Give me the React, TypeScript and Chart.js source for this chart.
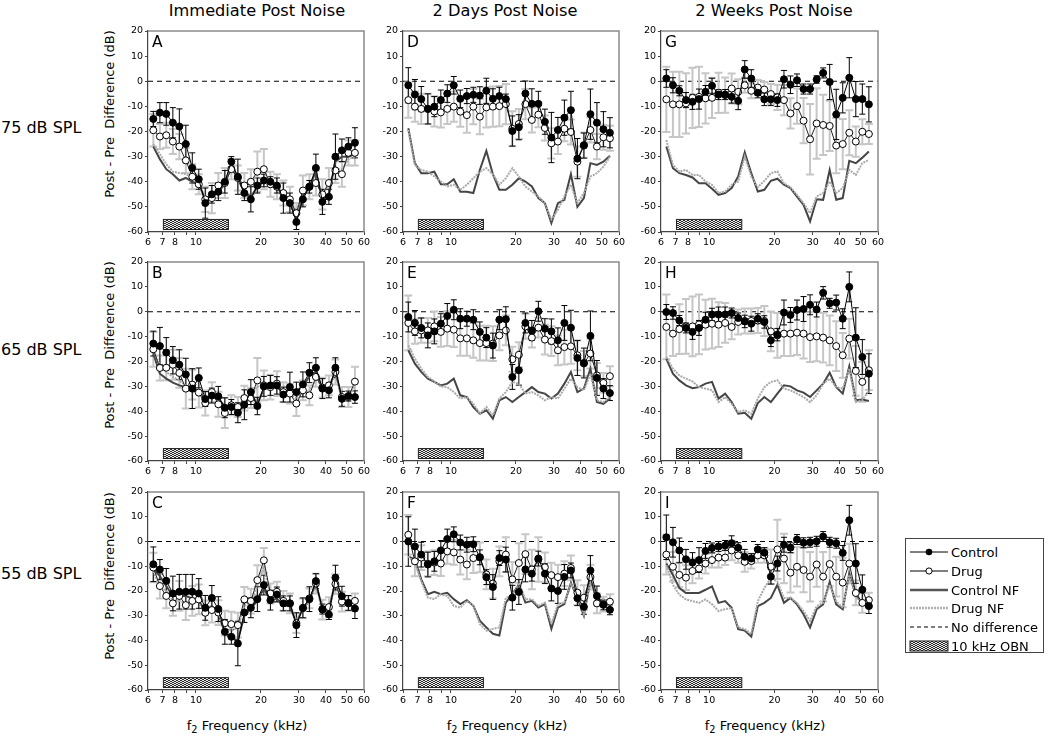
import React, { useEffect, useRef } from "react";
import { Chart, registerables } from "chart.js";

Chart.register(...registerables);
Chart.defaults.font.family = "'DejaVu Sans', sans-serif";
Chart.defaults.color = "#000";

// ---------------- data ----------------
const FREQS = [6.35, 6.81, 7.29, 7.82, 8.38, 8.98, 9.62, 10.31, 11.05, 11.85, 12.7, 13.61, 14.59, 15.64, 16.76, 17.96, 19.25, 20.63, 22.12, 23.7, 25.4, 27.23, 29.18, 31.28, 33.52, 35.93, 38.51, 41.27, 44.24, 47.41, 50.81, 54.46];
const X_TICKS = [6, 7, 8, 9, 10, 20, 30, 40, 50, 60];
const X_TICK_LABELS = ["6", "7", "8", "", "10", "20", "30", "40", "50", "60"];
const Y_MIN = -60;
const Y_MAX = 20;
const Y_STEP = 10;
const ZERO_LINE = 0;
const OBN_RANGE = [7.07, 14.14];
const OBN_LEVELS = [-55, -59];

const COLUMN_TITLES = ["Immediate Post Noise", "2 Days Post Noise", "2 Weeks Post Noise"];
const ROW_LABELS = ["75 dB SPL", "65 dB SPL", "55 dB SPL"];
const Y_TITLE = "Post - Pre  Difference (dB)";
const LEGEND_LABELS = ["Control", "Drug", "Control NF", "Drug NF", "No difference", "10 kHz OBN"];

// Panel A
const A_CONTROL = [-15, -12.5, -13, -16.5, -18, -25, -34.5, -39, -48.5, -45, -44, -40, -32, -38, -44.5, -47, -41.5, -39.5, -40, -41.5, -46.5, -48.5, -56, -47, -42, -34.5, -48, -46, -30, -27.5, -26, -24.5];
const A_CONTROL_ERR = [3, 4, 4.5, 6, 7, 7.5, 6, 4, 6, 3.5, 3.5, 4.5, 2, 7, 3, 5, 3, 2.5, 2, 3, 6, 4, 3, 3, 2.5, 5.5, 5, 3, 9, 4.5, 3.5, 6];
const A_DRUG = [-19.5, -22, -21.5, -24, -26, -31.5, -38, -41, -47, -46.5, -41.5, -40.5, -35, -38.5, -41.5, -40, -36, -35, -41, -42, -44.5, -47, -52.5, -43.5, -42, -40.5, -45, -40.5, -35.5, -37, -28.5, -28.5];
const A_DRUG_ERR = [6.5, 5, 5, 5, 5, 5, 5, 4, 5, 6, 5, 6, 4, 5, 5, 5, 8, 8, 5, 5, 5, 5, 4, 6, 5, 5, 6, 6, 5, 5, 5, 5];
const A_CONTROL_NF = [-26, -31, -35, -37, -39.5, -38.5, -40, -41, -47, -46, -44, -41, -33, -39, -44, -46, -42, -40, -40, -42, -46, -48, -55, -46, -42, -36, -47, -45, -32, -30, -30, -29];
const A_DRUG_NF = [-25, -29, -33, -36, -36.5, -37, -38, -41, -46, -46, -42, -41, -35, -39, -42, -41, -37, -36, -40, -42, -45, -47, -52, -44, -42, -40, -45, -41, -35, -35, -31, -30];

// Panel B
const B_CONTROL = [-12.8, -13.8, -16.4, -19.5, -21.3, -25.2, -30.9, -26.6, -35.1, -33.7, -34, -38.6, -38.3, -40.6, -37.4, -32.3, -37.9, -30, -29.6, -29.6, -33.3, -30.3, -32.3, -29.2, -24.5, -22.5, -30.9, -31.6, -22.5, -35, -33.9, -34.3];
const B_CONTROL_ERR = [5, 7.5, 6, 5.5, 6, 6.5, 8, 4, 3, 3, 4, 4, 3, 4, 6, 5, 3.5, 4, 4, 3.5, 3, 6, 4, 5, 4, 4, 4, 3, 4, 3, 2, 2.5];
const B_DRUG = [-15.1, -22.6, -22.5, -21.3, -24.6, -30.9, -29.3, -32.5, -36.7, -32.3, -37.2, -40.7, -37.6, -38.3, -34.7, -34.7, -27.6, -29.6, -30.3, -28.9, -32.3, -32.9, -36.9, -31.6, -33.6, -26.2, -30.5, -29.6, -24.2, -34.3, -34.3, -28.1];
const B_DRUG_ERR = [7, 5, 5, 6, 6, 8, 6, 6, 5, 4, 5, 6, 4, 4, 5, 4, 9, 6, 5, 5, 4, 4, 5, 4, 4, 4, 4, 4, 5, 4, 4, 6];
const B_CONTROL_NF = [-16.9, -24.9, -26.9, -28.5, -29.6, -30.3, -32, -32, -35, -34, -35, -38, -38.5, -40, -38, -33, -37, -31, -30, -30, -33, -31, -32, -30, -26, -24, -31, -31, -24, -35, -34, -34];
const B_DRUG_NF = [-15.5, -21.5, -24.2, -26.2, -27.6, -29.6, -31, -33, -36, -33, -36, -39, -37.5, -38, -35, -34, -30, -30, -31, -30, -32, -33, -35, -32, -32, -27, -30, -30, -25, -34, -34, -30];

// Panel C
const C_CONTROL = [-9.2, -11.3, -15.9, -21, -20.3, -20.3, -20.3, -21, -26.8, -22.8, -27.3, -36.5, -38.5, -41.2, -28.7, -26.8, -23.3, -17.6, -23.7, -21.4, -25, -25, -33.8, -26.8, -23.3, -16, -27.3, -29.5, -14.6, -22.1, -24.8, -27.1];
const C_CONTROL_ERR = [7, 4, 5, 7, 7, 7, 7, 6, 5, 5, 5, 5, 3, 9, 4, 4, 5, 4, 4, 3, 3, 3, 5, 4, 5, 3, 2, 2, 5, 4, 3, 4];
const C_DRUG = [-10.5, -18, -22, -25, -22, -25.7, -24, -23.4, -28.8, -27.7, -28.7, -33, -33.4, -33.8, -23.4, -24.1, -15.6, -7.6, -21, -20.3, -24, -25, -33, -27, -23, -17, -27.5, -26.5, -17.2, -24.3, -25, -24];
const C_DRUG_ERR = [6, 5, 5, 5, 6, 6, 6, 6, 5, 5, 5, 5, 5, 5, 5, 5, 6, 5, 4, 4, 4, 4, 4, 4, 4, 4, 4, 4, 4, 4, 3, 3];
const C_CONTROL_NF = [-11, -14, -18, -22, -22, -22, -23, -24, -28, -26, -29, -37, -39, -40, -30, -27, -24, -19, -24, -23, -26, -26, -33, -27, -24, -17, -27, -28, -16, -23, -25, -27];
const C_DRUG_NF = [-12, -18, -20, -24, -24, -25, -25, -24, -29, -27, -29, -35, -36, -35, -26, -24, -18, -10, -22, -21, -24, -25, -32, -27, -24, -18, -27, -27, -17, -24, -25, -25];

// Panel D
const D_CONTROL = [-1.6, -5.3, -7.1, -11, -10.1, -7.5, -4.9, -1.6, -7, -5.9, -5.4, -5.7, -3.8, -7, -5.9, -7.1, -19.8, -18.3, -4.9, -9, -9, -16.1, -22.4, -19.4, -14.5, -11.5, -30.8, -25.6, -13.1, -16.5, -19.1, -20.5];
const D_CONTROL_ERR = [7, 6, 5, 6, 4, 4, 3.5, 3.5, 3.5, 3, 3, 3.5, 5, 4, 3.5, 2, 6, 5, 5, 6, 5, 5, 10, 5, 7, 7.5, 8, 5, 10, 8, 7, 6];
const D_DRUG = [-7.5, -10.1, -11, -11, -12, -12.4, -11, -10.1, -12.1, -13.5, -10.1, -14.1, -10.4, -10.1, -9.9, -9.1, -18.9, -17, -9.1, -15.4, -13.3, -18.6, -24.7, -24, -18.9, -20.2, -32, -25.4, -19.4, -26, -22.3, -22.7];
const D_DRUG_ERR = [7, 6, 6, 6, 6, 6, 6, 6, 6, 7, 7, 7, 8, 8, 8, 8, 7, 6, 6, 5, 5, 5, 6, 5, 5, 5, 6, 5, 5, 5, 5, 5];
const D_CONTROL_NF = [-18.7, -32.6, -36.6, -36.6, -36, -41, -41, -39, -44, -44, -44.5, -35.3, -27.7, -37, -43.2, -43.2, -41.2, -38.6, -39.9, -41.9, -46.5, -48.5, -56.4, -48.5, -47.2, -36.9, -50, -46.5, -32.6, -33.3, -32, -29.7];
const D_DRUG_NF = [-19.4, -33.3, -35.3, -35.9, -37.9, -39.9, -41.9, -41.2, -43.2, -41.2, -38.6, -36, -34.6, -37, -41.2, -38.6, -34.6, -37.9, -41.9, -43.9, -45.9, -48.5, -55, -51.1, -45.9, -41.2, -48.5, -44.5, -37.9, -36.6, -34, -30];

// Panel E
const E_CONTROL = [-2.1, -4.5, -6.5, -9.5, -7.9, -4.8, -1.7, 0.8, -2.8, -2.8, -3.2, -8.1, -10.4, -13.6, -3.2, -3, -26.2, -23.5, -4.5, -7.5, 0.2, -6.8, -7.9, -11.5, -4.5, -6.4, -18.6, -20.6, -9.7, -26.6, -30.9, -32.7];
const E_CONTROL_ERR = [6, 5, 4, 5, 5, 4, 5, 4, 4, 3, 4, 4, 4, 5, 4, 5, 5, 6, 4, 4, 4, 4, 5, 5, 7, 7, 7, 6, 10, 7, 4, 3];
const E_DRUG = [-4.5, -7.9, -7.5, -7.5, -5.9, -8.1, -6.8, -7.2, -10.7, -10.7, -11.5, -12.6, -12.6, -12.8, -9.5, -7.5, -19.1, -17.3, -5.9, -10.4, -6.4, -11.2, -11.8, -15.5, -14.2, -13.9, -17.5, -20.8, -16.8, -25.6, -28.6, -25.9];
const E_DRUG_ERR = [11, 5, 5, 5, 6, 6, 7, 7, 7, 7, 7, 7, 7, 7, 6, 6, 5, 5, 5, 4, 4, 6, 6, 6, 7, 7, 6, 5, 6, 5, 4, 4];
const E_CONTROL_NF = [-15.5, -20.9, -24.2, -26.9, -28.2, -29.6, -28.9, -26.9, -33.6, -34.3, -38.3, -41, -39.6, -43, -35.6, -34.3, -36.3, -34.3, -32.3, -30.3, -32.3, -32.9, -34.9, -32.9, -28.9, -24.2, -32.3, -30.9, -22.9, -36.3, -37, -34.9];
const E_DRUG_NF = [-13.5, -18.9, -22.9, -26.2, -28, -30, -30.3, -32.3, -34.9, -34.3, -37, -41, -38.3, -41.6, -34.9, -32.3, -28.2, -28.9, -32.9, -32.3, -33.6, -35.6, -34.3, -34.9, -30.9, -26.9, -30.3, -31.6, -24.9, -35.6, -36.3, -34.3];

// Panel F
const F_CONTROL = [0, -2, -5.3, -9.3, -8, -3.6, 1, 2.9, -0.4, -1.3, -1.1, -6.4, -14.4, -18.4, -6.7, -7.3, -22.7, -20.4, -11.3, -13, -6.9, -13, -19, -20, -14.3, -11.7, -22.9, -26.4, -11.7, -22, -25.6, -27.6];
const F_CONTROL_ERR = [10, 7, 5, 5, 4, 4, 4, 3, 3, 3, 3, 3, 3, 5, 3, 5, 5, 5, 5, 3, 3, 4, 5, 5, 5, 3, 3, 3, 6, 4, 2, 2];
const F_DRUG = [2.7, -8, -6.5, -9, -8.5, -8.9, -4, -4.4, -7.3, -9.3, -6.7, -6.4, -13.3, -17, -8, -5.3, -15.3, -8.7, -5.1, -11.3, -7.3, -10.4, -13.6, -14.4, -13, -10.7, -20.7, -22.7, -14.4, -25, -25.3, -24.3];
const F_DRUG_ERR = [8, 6, 5, 5, 5, 5, 5, 5, 6, 6, 6, 6, 6, 6, 6, 7, 7, 8, 8, 8, 9, 6, 5, 5, 5, 5, 5, 5, 5, 4, 3, 3];
const F_CONTROL_NF = [-6, -7.3, -15.3, -21.3, -20.3, -21.3, -20.7, -23.3, -25.3, -23.7, -26, -32, -34.7, -37.3, -38, -24.7, -21.3, -17.3, -24.7, -24, -26.7, -25.3, -35.3, -26.7, -25.3, -16.7, -22.7, -30, -15.3, -23.3, -24, -24.7];
const F_DRUG_NF = [-6, -8.7, -16, -22.7, -23.3, -21.3, -22, -26, -26.7, -24, -26, -33.3, -36, -35.3, -34.7, -22.7, -22, -16.7, -23.3, -23.3, -26, -24.7, -33.3, -25.3, -24.7, -17.3, -20.7, -29.3, -16.7, -22, -23.3, -24];

// Panel G
const G_CONTROL = [1.1, -1.6, -3.8, -7.5, -8.2, -7.1, -4.2, -1.8, -5.3, -5.3, -6.2, -7.8, 4.7, 1.1, -4.6, -7.2, -7.2, -7.5, 0.8, -1.4, 0.4, -3.1, -3.1, 0.7, 3.3, -0.3, -13.2, -6.6, 1.4, -7.1, -7.1, -9.2];
const G_CONTROL_ERR = [3.5, 3, 2, 3, 3, 4, 2.5, 3, 2, 2, 2.5, 3.5, 3.5, 3.5, 2, 2.5, 2.5, 2.5, 3.5, 3.5, 2.5, 2, 2, 1.5, 2, 7, 10, 6, 8, 7, 6, 7];
const G_DRUG = [-7.2, -9.2, -9.2, -8.8, -6.6, -6.2, -6.8, -6.6, -4.6, -5.5, -2.9, -4.2, -1.6, -3.8, -2.5, -3.3, -5.1, -6.4, -7.5, -12.8, -9.9, -15.7, -23.1, -16.8, -17.4, -17.8, -25.6, -25, -20.5, -24, -20.1, -21];
const G_DRUG_ERR = [13, 13, 13, 12, 12, 12, 10, 8, 8, 7, 6, 5, 3, 3, 3, 3, 4, 5, 6, 6, 7, 9, 14, 14, 12, 10, 11, 10, 9, 6, 5, 4];
const G_CONTROL_NF = [-26, -34.6, -36.6, -37.3, -38.3, -40.6, -40.6, -42.8, -45.2, -44.5, -42.5, -37.9, -28.3, -36.6, -43.9, -43.2, -39.6, -38.8, -41.2, -42.5, -45.9, -49.2, -55.8, -47, -47.2, -35.3, -47.2, -46.5, -31.7, -32.6, -30.4, -28];
const G_DRUG_NF = [-23.4, -33.3, -35.9, -35.3, -37.3, -37.3, -39.9, -41.2, -44.5, -43.9, -41.2, -39.9, -30, -37.9, -42.2, -39.6, -36.6, -35.9, -40.6, -42.2, -45.2, -48.5, -52.5, -45.9, -44.5, -39.9, -44.5, -42.5, -35.3, -37.3, -32.6, -31.3];

// Panel H
const H_CONTROL = [-0.1, -0.5, -3.5, -6.5, -8.1, -6.5, -3.2, -1.1, -1.1, -1.1, -0.5, -2.5, -3.9, -4.8, -2.8, -4.1, -11.5, -9.2, -0.3, -1.3, 0.7, 1.1, 2.8, 0.9, 7.6, 3.4, 3.7, -2.8, 10, -10.4, -18.2, -24.9];
const H_CONTROL_ERR = [3, 2.5, 2, 2, 3, 3, 3, 2.5, 3, 3, 2, 2, 2.5, 3, 2, 2.5, 2.5, 2.5, 5, 3, 4, 5, 4, 3, 2.5, 2, 3, 4, 6, 12, 7, 8];
const H_DRUG = [-6.1, -8.8, -7, -5.9, -5.9, -5.1, -5.2, -4.8, -5.2, -4.5, -6.1, -4.1, -3.7, -3.7, -3.5, -3.7, -7.9, -9.5, -8.8, -8.8, -8.4, -8.8, -10.2, -9.9, -10.4, -11.5, -13.8, -17.5, -10.8, -23.8, -28.2, -23.5];
const H_DRUG_ERR = [13, 9, 10, 11, 12, 12, 10, 10, 9, 8, 5, 5, 5, 5, 5, 6, 8, 9, 9, 9, 9, 10, 10, 10, 10, 10, 10, 9, 8, 10, 8, 8];
const H_CONTROL_NF = [-18.9, -24.9, -27.6, -29.6, -30.7, -30.3, -28.9, -28.2, -34.9, -32.9, -36.3, -41, -40.6, -43, -36.7, -34.3, -36.3, -32.9, -29.6, -30, -31.6, -32.5, -34.3, -31.6, -28.9, -24.5, -30.3, -32.9, -21.9, -35.6, -35.3, -35.9];
const H_DRUG_NF = [-18.2, -22.9, -25.6, -26.9, -28, -30.3, -30.9, -31.6, -36.3, -34.3, -37, -40.3, -39.6, -41, -34.9, -30.3, -28.2, -27.6, -30.9, -31.6, -32.9, -34.3, -36.3, -33.6, -28.9, -26.9, -30.3, -30.9, -22.9, -36.3, -35.6, -31.6];

// Panel I
const I_CONTROL = [1.7, -0.3, -3.6, -7.2, -8.5, -7.5, -3.8, -2.6, -2, -1.6, -0.7, -2.5, -6.2, -6.9, -3.2, -4.5, -14.2, -8.9, -1.3, -2.5, 0.8, -0.5, -0.3, 0.1, 2, -0.3, -0.7, -4.6, 8.6, -8.9, -19.5, -26.1];
const I_CONTROL_ERR = [9, 6, 5, 4, 4, 5, 3, 2, 2, 2, 3, 2, 3, 2, 2, 2, 3, 3, 3, 2, 2, 2, 2, 2, 2, 2, 2, 3, 6, 8, 6, 3];
const I_DRUG = [-5.3, -10.2, -13.5, -14.6, -11.9, -10.9, -8.9, -7.5, -6.5, -6.5, -3.6, -5.6, -8.2, -7.9, -5.6, -5.6, -10.2, -3.2, -6.9, -12.6, -10.2, -11.5, -14.2, -9.3, -14.2, -9.1, -14.2, -16.6, -8.9, -20.8, -24.8, -23.7];
const I_DRUG_ERR = [8, 6, 5, 5, 5, 4, 4, 3, 4, 3, 4, 3, 4, 3, 3, 3, 7, 12, 10, 8, 8, 9, 10, 9, 10, 9, 8, 10, 8, 5, 4, 3];
const I_CONTROL_NF = [-8.9, -13.5, -18.8, -20.8, -20.8, -20.8, -19.5, -18.1, -24.8, -24.1, -26.8, -35.4, -36, -38.4, -26.1, -24.8, -22.8, -17.5, -24.8, -22.8, -25.4, -29.4, -34.7, -27.4, -25.4, -16.4, -25.4, -27.4, -12.8, -21.5, -24.8, -25.4];
const I_DRUG_NF = [-9.5, -17.5, -21.5, -23.4, -24.1, -24.8, -23.4, -25.4, -28.1, -27.4, -26.8, -34.7, -35.4, -37.4, -24.1, -18.8, -14.8, -16.2, -22.8, -22.8, -24.8, -28.1, -32.1, -26.1, -24.8, -17.5, -24.1, -26.8, -13.5, -22.8, -24.1, -24.8];

const PANELS = [
  { letter: "A", col: 0, row: 0, control: A_CONTROL, controlErr: A_CONTROL_ERR, drug: A_DRUG, drugErr: A_DRUG_ERR, controlNF: A_CONTROL_NF, drugNF: A_DRUG_NF },
  { letter: "B", col: 0, row: 1, control: B_CONTROL, controlErr: B_CONTROL_ERR, drug: B_DRUG, drugErr: B_DRUG_ERR, controlNF: B_CONTROL_NF, drugNF: B_DRUG_NF },
  { letter: "C", col: 0, row: 2, control: C_CONTROL, controlErr: C_CONTROL_ERR, drug: C_DRUG, drugErr: C_DRUG_ERR, controlNF: C_CONTROL_NF, drugNF: C_DRUG_NF },
  { letter: "D", col: 1, row: 0, control: D_CONTROL, controlErr: D_CONTROL_ERR, drug: D_DRUG, drugErr: D_DRUG_ERR, controlNF: D_CONTROL_NF, drugNF: D_DRUG_NF },
  { letter: "E", col: 1, row: 1, control: E_CONTROL, controlErr: E_CONTROL_ERR, drug: E_DRUG, drugErr: E_DRUG_ERR, controlNF: E_CONTROL_NF, drugNF: E_DRUG_NF },
  { letter: "F", col: 1, row: 2, control: F_CONTROL, controlErr: F_CONTROL_ERR, drug: F_DRUG, drugErr: F_DRUG_ERR, controlNF: F_CONTROL_NF, drugNF: F_DRUG_NF },
  { letter: "G", col: 2, row: 0, control: G_CONTROL, controlErr: G_CONTROL_ERR, drug: G_DRUG, drugErr: G_DRUG_ERR, controlNF: G_CONTROL_NF, drugNF: G_DRUG_NF },
  { letter: "H", col: 2, row: 1, control: H_CONTROL, controlErr: H_CONTROL_ERR, drug: H_DRUG, drugErr: H_DRUG_ERR, controlNF: H_CONTROL_NF, drugNF: H_DRUG_NF },
  { letter: "I", col: 2, row: 2, control: I_CONTROL, controlErr: I_CONTROL_ERR, drug: I_DRUG, drugErr: I_DRUG_ERR, controlNF: I_CONTROL_NF, drugNF: I_DRUG_NF },
];

// ---------------- layout ----------------
const COLS = [
  { left: 148, right: 364 },
  { left: 403, right: 619 },
  { left: 661, right: 878 },
];
const ROWS = [
  { top: 31, bottom: 232 },
  { top: 262, bottom: 461 },
  { top: 492, bottom: 690 },
];
const PAD = { l: 40, r: 14, t: 10, b: 22 };
const FONT = "'DejaVu Sans', sans-serif";

let patternCache: CanvasPattern | null = null;
function obnPattern(ctx: CanvasRenderingContext2D): CanvasPattern | string {
  if (patternCache) return patternCache;
  const c = document.createElement("canvas");
  c.width = 4;
  c.height = 4;
  const p = c.getContext("2d");
  if (!p) return "#777";
  p.fillStyle = "#ececec";
  p.fillRect(0, 0, 4, 4);
  p.fillStyle = "#2a2a2a";
  p.fillRect(0, 0, 2, 1);
  p.fillRect(2, 1, 2, 1);
  p.fillRect(0, 2, 2, 1);
  p.fillRect(2, 3, 2, 1);
  const pat = ctx.createPattern(c, "repeat");
  if (pat) patternCache = pat;
  return pat || "#777";
}

const decorPlugin = {
  id: "decor",
  beforeDatasetsDraw(chart: any) {
    const { ctx, chartArea: a, scales } = chart;
    const xs = scales.x;
    const ys = scales.y;
    ctx.save();
    ctx.beginPath();
    ctx.rect(a.left, a.top, a.right - a.left, a.bottom - a.top);
    ctx.clip();
    const y0 = ys.getPixelForValue(ZERO_LINE);
    ctx.setLineDash([5, 4]);
    ctx.strokeStyle = "#000";
    ctx.lineWidth = 1;
    ctx.beginPath();
    ctx.moveTo(a.left, y0);
    ctx.lineTo(a.right, y0);
    ctx.stroke();
    ctx.setLineDash([]);
    const bx1 = xs.getPixelForValue(OBN_RANGE[0]);
    const bx2 = xs.getPixelForValue(OBN_RANGE[1]);
    const by1 = ys.getPixelForValue(OBN_LEVELS[0]);
    const by2 = ys.getPixelForValue(OBN_LEVELS[1]);
    ctx.fillStyle = obnPattern(ctx);
    ctx.fillRect(bx1, by1, bx2 - bx1, by2 - by1);
    ctx.strokeStyle = "#222";
    ctx.lineWidth = 1;
    ctx.strokeRect(bx1, by1, bx2 - bx1, by2 - by1);
    const order = [1, 0];
    order.forEach((di) => {
      const ds = chart.data.datasets[di];
      const meta = chart.getDatasetMeta(di);
      if (!ds || !ds.errors) return;
      ctx.strokeStyle = ds.errColor;
      ctx.lineWidth = ds.errWidth;
      ds.data.forEach((pt: any, j: number) => {
        const el = meta.data[j];
        if (!el) return;
        const e = ds.errors[j];
        const x = el.x;
        const yt = ys.getPixelForValue(pt.y + e);
        const yb = ys.getPixelForValue(pt.y - e);
        const h = ds.capHalf;
        ctx.beginPath();
        ctx.moveTo(x, yt);
        ctx.lineTo(x, yb);
        ctx.moveTo(x - h, yt);
        ctx.lineTo(x + h, yt);
        ctx.moveTo(x - h, yb);
        ctx.lineTo(x + h, yb);
        ctx.stroke();
      });
    });
    ctx.restore();
  },
  afterDraw(chart: any, _args: any, opts: any) {
    const { ctx, chartArea: a } = chart;
    ctx.save();
    ctx.strokeStyle = "#8a8a8a";
    ctx.lineWidth = 1.5;
    ctx.beginPath();
    ctx.moveTo(a.left, a.top);
    ctx.lineTo(a.right, a.top);
    ctx.lineTo(a.right, a.bottom);
    ctx.stroke();
    ctx.fillStyle = "#000";
    ctx.font = `15.5px ${FONT}`;
    ctx.textBaseline = "top";
    ctx.textAlign = "left";
    ctx.fillText(opts.letter || "", a.left + 4, a.top + 4);
    ctx.restore();
  },
};

function Panel({ p }: { p: any }) {
  const ref = useRef<HTMLCanvasElement>(null);
  const col = COLS[p.col];
  const row = ROWS[p.row];
  const W = col.right - col.left + PAD.l + PAD.r;
  const H = row.bottom - row.top + PAD.t + PAD.b;

  useEffect(() => {
    if (!ref.current) return;
    const toPts = (arr: number[]) => FREQS.map((f, i) => ({ x: f, y: arr[i] }));
    const chart = new Chart(ref.current, {
      type: "line",
      data: {
        datasets: [
          {
            label: "Control",
            data: toPts(p.control),
            borderColor: "#000",
            borderWidth: 1,
            pointRadius: 3.5,
            pointBackgroundColor: "#000",
            pointBorderColor: "#000",
            pointBorderWidth: 1,
            order: 0,
            errors: p.controlErr,
            errColor: "#000",
            errWidth: 1,
            capHalf: 3,
          } as any,
          {
            label: "Drug",
            data: toPts(p.drug),
            borderColor: "#222",
            borderWidth: 1,
            pointRadius: 3.5,
            pointBackgroundColor: "#fff",
            pointBorderColor: "#000",
            pointBorderWidth: 1,
            order: 1,
            errors: p.drugErr,
            errColor: "#c6c6c6",
            errWidth: 2,
            capHalf: 4,
          } as any,
          {
            label: "Drug NF",
            data: toPts(p.drugNF),
            borderColor: "#a9a9a9",
            borderWidth: 2,
            borderDash: [2, 1],
            pointRadius: 0,
            order: 2,
          },
          {
            label: "Control NF",
            data: toPts(p.controlNF),
            borderColor: "#454545",
            borderWidth: 2,
            pointRadius: 0,
            order: 3,
          },
        ],
      },
      options: {
        animation: false,
        responsive: false,
        devicePixelRatio: 1,
        events: [],
        layout: { padding: { left: 0, right: PAD.r, top: PAD.t, bottom: 0 } },
        plugins: {
          legend: { display: false },
          tooltip: { enabled: false },
          decor: { letter: p.letter },
        } as any,
        scales: {
          x: {
            type: "logarithmic",
            min: X_TICKS[0],
            max: X_TICKS[X_TICKS.length - 1],
            afterBuildTicks: (s: any) => {
              s.ticks = X_TICKS.map((v) => ({ value: v }));
            },
            afterFit: (s: any) => {
              s.height = PAD.b;
            },
            ticks: {
              autoSkip: false,
              maxRotation: 0,
              minRotation: 0,
              padding: 2,
              font: { size: 9.5, family: FONT },
              color: "#000",
              callback: (_v: any, i: number) => X_TICK_LABELS[i],
            },
            grid: { display: true, drawOnChartArea: false, drawTicks: true, tickLength: 3, color: "#444" },
            border: { display: true, color: "#444", width: 1.2 },
          },
          y: {
            type: "linear",
            min: Y_MIN,
            max: Y_MAX,
            afterFit: (s: any) => {
              s.width = PAD.l;
            },
            ticks: {
              stepSize: Y_STEP,
              padding: 2,
              font: { size: 9.5, family: FONT },
              color: "#000",
            },
            grid: { display: true, drawOnChartArea: false, drawTicks: true, tickLength: 3, color: "#444" },
            border: { display: true, color: "#444", width: 1.2 },
          },
        },
      },
      plugins: [decorPlugin],
    } as any);
    return () => chart.destroy();
  }, []);

  return (
    <canvas
      ref={ref}
      width={W}
      height={H}
      style={{ position: "absolute", left: col.left - PAD.l, top: row.top - PAD.t, width: W, height: H }}
    />
  );
}

function CenterText({ x, y, size, children, rotate }: any) {
  return (
    <div
      style={{
        position: "absolute",
        left: x,
        top: y,
        transform: `translate(-50%, -50%)${rotate ? " rotate(-90deg)" : ""}`,
        fontSize: size,
        lineHeight: 1,
        whiteSpace: "pre",
        color: "#000",
      }}
    >
      {children}
    </div>
  );
}

function Legend() {
  const rowsY = [14, 33, 52, 70, 89, 108];
  return (
    <div
      style={{
        position: "absolute",
        left: 905,
        top: 538,
        width: 139,
        height: 115,
        border: "1px solid #444",
        boxSizing: "border-box",
        background: "#fff",
      }}
    >
      <svg width={139} height={115} style={{ position: "absolute", left: -1, top: -1 }}>
        <defs>
          <pattern id="obnPat" width="4" height="4" patternUnits="userSpaceOnUse">
            <rect width="4" height="4" fill="#ececec" />
            <rect x="0" y="0" width="2" height="1" fill="#2a2a2a" />
            <rect x="2" y="1" width="2" height="1" fill="#2a2a2a" />
            <rect x="0" y="2" width="2" height="1" fill="#2a2a2a" />
            <rect x="2" y="3" width="2" height="1" fill="#2a2a2a" />
          </pattern>
        </defs>
        <line x1={5} x2={43} y1={rowsY[0]} y2={rowsY[0]} stroke="#000" strokeWidth={1} />
        <circle cx={24} cy={rowsY[0]} r={3.3} fill="#000" />
        <line x1={5} x2={43} y1={rowsY[1]} y2={rowsY[1]} stroke="#000" strokeWidth={1} />
        <circle cx={24} cy={rowsY[1]} r={3.1} fill="#fff" stroke="#000" strokeWidth={1} />
        <line x1={5} x2={43} y1={rowsY[2]} y2={rowsY[2]} stroke="#555" strokeWidth={2.5} />
        <line x1={5} x2={43} y1={rowsY[3]} y2={rowsY[3]} stroke="#b0b0b0" strokeWidth={2.5} strokeDasharray="2,1" />
        <line x1={5} x2={43} y1={rowsY[4]} y2={rowsY[4]} stroke="#000" strokeWidth={1} strokeDasharray="4,3" />
        <rect x={5} y={rowsY[5] - 5} width={38} height={10} fill="url(#obnPat)" stroke="#222" strokeWidth={1} />
      </svg>
      {LEGEND_LABELS.map((t, i) => (
        <div
          key={t}
          style={{
            position: "absolute",
            left: 45,
            top: rowsY[i] - 1,
            transform: "translateY(-50%)",
            fontSize: 13,
            lineHeight: 1,
            whiteSpace: "pre",
          }}
        >
          {t}
        </div>
      ))}
    </div>
  );
}

export default function App() {
  const titleX = [257, 505, 774];
  const rowLabelY = [128, 350, 574];
  const yTitleY = [114, 345, 576];
  const xTitleX = [247, 507, 765];
  return (
    <div
      style={{
        position: "absolute",
        left: 0,
        top: 0,
        width: 1050,
        height: 738,
        background: "#fff",
        fontFamily: FONT,
        overflow: "hidden",
      }}
    >
      {COLUMN_TITLES.map((t, i) => (
        <CenterText key={t} x={titleX[i]} y={11} size={16.2}>
          {t}
        </CenterText>
      ))}
      {ROW_LABELS.map((t, i) => (
        <div
          key={t}
          style={{
            position: "absolute",
            left: 1,
            top: rowLabelY[i],
            transform: "translateY(-50%)",
            fontSize: 16,
            lineHeight: 1,
            whiteSpace: "pre",
          }}
        >
          {t}
        </div>
      ))}
      {yTitleY.map((y, i) => (
        <CenterText key={"yt" + i} x={109} y={y} size={13}>
          {Y_TITLE}
        </CenterText>
      )).map((el, i) => (
        <div key={"ytw" + i}>{React.cloneElement(el, { rotate: true })}</div>
      ))}
      {xTitleX.map((x, i) => (
        <CenterText key={"xt" + i} x={x} y={725} size={13}>
          <span>f</span>
          <span style={{ fontSize: "0.75em", position: "relative", top: "0.35em" }}>2</span>
          <span> Frequency (kHz)</span>
        </CenterText>
      ))}
      {PANELS.map((p) => (
        <Panel key={p.letter} p={p} />
      ))}
      <Legend />
    </div>
  );
}
